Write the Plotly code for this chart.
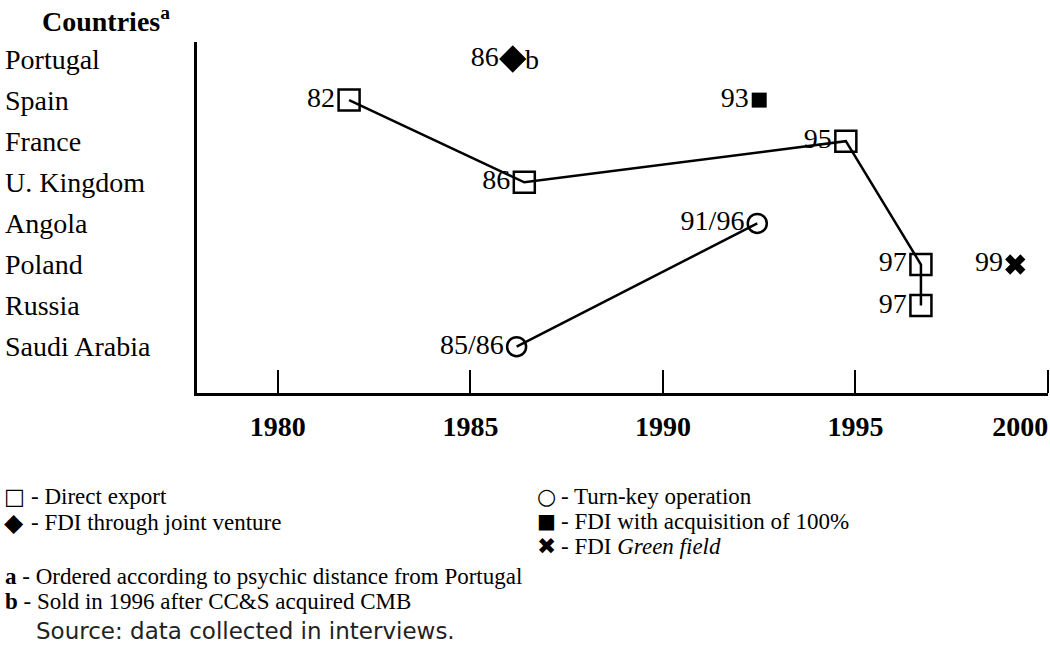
import plotly.graph_objects as go

# ---------------- data ----------------
countries = ["Portugal", "Spain", "France", "U. Kingdom", "Angola",
             "Poland", "Russia", "Saudi Arabia"]

# Direct export path (connected)
export_countries = ["Spain", "U. Kingdom", "France", "Poland", "Russia"]
export_years = [1981.85, 1986.4, 1994.75, 1996.7, 1996.7]
export_labels = ["82", "86", "95", "97", "97"]

# Turn-key operations (connected)
turnkey_countries = ["Angola", "Saudi Arabia"]
turnkey_years = [1992.45, 1986.2]
turnkey_labels = ["91/96", "85/86"]

# FDI through joint venture
jv_countries = ["Portugal"]
jv_years = [1986.1]
jv_labels = ["86"]
jv_note = ["b"]

# FDI with acquisition of 100%
acq_countries = ["Spain"]
acq_years = [1992.5]
acq_labels = ["93"]

# FDI green field
gf_countries = ["Poland"]
gf_years = [1999.15]
gf_labels = ["99"]

tick_years = [1980, 1985, 1990, 1995, 2000]
tick_text = ["1980", "1985", "1990", "1995", "2000"]

legend_left_sym = ["\u25A1", "\u25C6"]
legend_left = ["Direct export", "FDI through joint venture"]
legend_right_sym = ["\u25CB", "\u25A0", "\u2716"]
legend_right = ["Turn-key operation", "FDI with acquisition of 100%",
                "FDI <i>Green field</i>"]
notes = ["<b>a</b> - Ordered according to psychic distance from Portugal",
         "<b>b</b> - Sold in 1996 after CC&S acquired CMB"]
source = "Source: data collected in interviews."

# ---------------- layout constants ----------------
W, H = 1050, 645
L, R, T, B = 197, 2, 42, 252
PW, PH = W - L - R, H - T - B
SERIF = "Liberation Serif, Times New Roman, serif"
SYM = "DejaVu Sans, sans-serif"
FS = 28


def px(p):
    return (p - L) / PW


def py(p):
    return (H - B - p) / PH


fig = go.Figure()

fig.add_trace(go.Scatter(
    x=export_years, y=export_countries, mode="lines+markers+text",
    text=export_labels, textposition="middle left",
    textfont=dict(family=SERIF, size=FS, color="black"),
    line=dict(color="black", width=2.5),
    marker=dict(symbol="square-open", size=21, color="black",
                line=dict(width=2.5, color="black")),
    cliponaxis=False, hoverinfo="skip"))

fig.add_trace(go.Scatter(
    x=turnkey_years, y=turnkey_countries, mode="lines+markers+text",
    text=turnkey_labels, textposition="middle left",
    textfont=dict(family=SERIF, size=FS, color="black"),
    line=dict(color="black", width=2.5),
    marker=dict(symbol="circle-open", size=19, color="black",
                line=dict(width=2.5, color="black")),
    cliponaxis=False, hoverinfo="skip"))

fig.add_trace(go.Scatter(
    x=jv_years, y=jv_countries, mode="markers+text",
    text=jv_labels, textposition="middle left",
    textfont=dict(family=SERIF, size=FS, color="black"),
    marker=dict(symbol="diamond", size=21, color="black"),
    cliponaxis=False, hoverinfo="skip"))

fig.add_trace(go.Scatter(
    x=acq_years, y=acq_countries, mode="markers+text",
    text=acq_labels, textposition="middle left",
    textfont=dict(family=SERIF, size=FS, color="black"),
    marker=dict(symbol="square", size=15, color="black"),
    cliponaxis=False, hoverinfo="skip"))

fig.add_trace(go.Scatter(
    x=gf_years, y=gf_countries, mode="markers+text",
    text=gf_labels, textposition="middle left",
    textfont=dict(family=SERIF, size=FS, color="black"),
    marker=dict(symbol="x", size=18, color="black", line=dict(width=0)),
    cliponaxis=False, hoverinfo="skip"))

ann = []
# footnote "b" next to the joint venture diamond
for xv, yv, t in zip(jv_years, jv_countries, jv_note):
    ann.append(dict(x=xv, y=yv, xref="x", yref="y", text=t, showarrow=False,
                    xanchor="left", yanchor="middle", xshift=10,
                    font=dict(family=SERIF, size=FS, color="black")))

# row labels (left aligned)
for c in countries:
    ann.append(dict(x=px(3), y=c, xref="paper", yref="y", text=c,
                    showarrow=False, xanchor="left", yanchor="middle",
                    font=dict(family=SERIF, size=FS, color="black")))

# title
ann.append(dict(x=px(40), y=py(20), xref="paper", yref="paper",
                text="<b>Countries<sup>a</sup></b>", showarrow=False,
                xanchor="left", yanchor="middle",
                font=dict(family=SERIF, size=FS, color="black")))

LFS = 23


def legend_item(x0, y0, sym, txt, symsize, gap):
    ann.append(dict(x=px(x0), y=py(y0), xref="paper", yref="paper",
                    text=sym, showarrow=False, xanchor="left", yanchor="middle",
                    font=dict(family=SYM, size=symsize, color="black")))
    ann.append(dict(x=px(x0 + gap), y=py(y0), xref="paper", yref="paper",
                    text="- " + txt, showarrow=False, xanchor="left",
                    yanchor="middle",
                    font=dict(family=SERIF, size=LFS, color="black")))


sizes_left = [22, 25]
for i, (s, t) in enumerate(zip(legend_left_sym, legend_left)):
    legend_item(2, 496 + 26 * i, s, t, sizes_left[i], 27)
sizes_right = [22, 20, 23]
for i, (s, t) in enumerate(zip(legend_right_sym, legend_right)):
    legend_item(535, 496 + 25 * i, s, t, sizes_right[i], 24)

for i, t in enumerate(notes):
    ann.append(dict(x=px(3), y=py(576 + 25 * i), xref="paper", yref="paper",
                    text=t, showarrow=False, xanchor="left", yanchor="middle",
                    font=dict(family=SERIF, size=LFS, color="black")))
ann.append(dict(x=px(34), y=py(631), xref="paper", yref="paper",
                text=source, showarrow=False, xanchor="left", yanchor="middle",
                font=dict(family="DejaVu Sans, Verdana, sans-serif", size=23,
                          color="#222222")))

# tick label positions: last label sits inside the right edge
label_pos = list(tick_years[:-1]) + [tick_years[-1] - 0.72]

fig.update_layout(
    width=W, height=H,
    margin=dict(l=L, r=R, t=T, b=B, pad=0),
    paper_bgcolor="white", plot_bgcolor="white",
    showlegend=False,
    annotations=ann,
    xaxis=dict(
        range=[1977.9, 2000], showgrid=False, zeroline=False,
        showline=True, linecolor="black", linewidth=3,
        tickmode="array", tickvals=label_pos, ticktext=tick_text,
        ticks="", ticklabelstandoff=6,
        tickfont=dict(family=SERIF, size=FS, color="black", weight="bold"),
        minor=dict(tickmode="array", tickvals=tick_years, ticks="inside",
                   ticklen=23, tickwidth=2, tickcolor="black", showgrid=False),
        fixedrange=True),
    yaxis=dict(
        type="category", categoryorder="array", categoryarray=countries,
        range=[8.127, -0.414], showgrid=False, zeroline=False,
        showline=True, linecolor="black", linewidth=2.5,
        showticklabels=False, ticks="", fixedrange=True),
)

fig.write_html("out.html", config={"displayModeBar": False},
               post_script="document.body.style.margin='0';document.body.style.overflow='hidden';")
